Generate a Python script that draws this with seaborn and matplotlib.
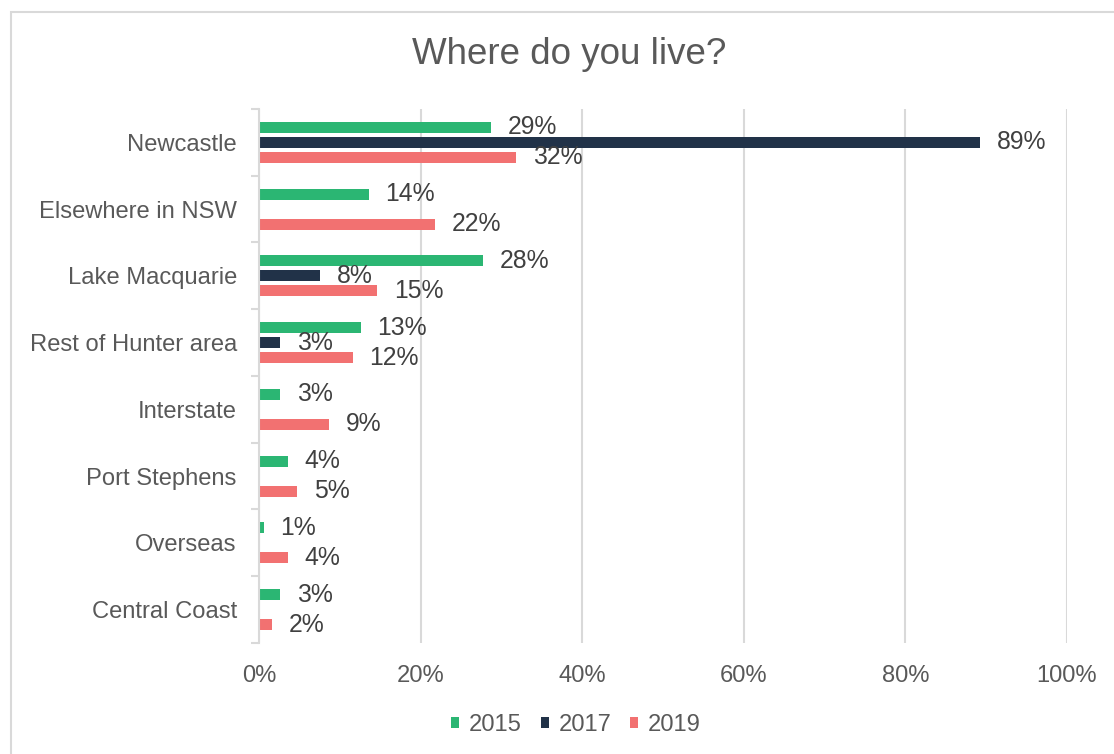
import numpy as np
import pandas as pd
import matplotlib
matplotlib.use("Agg")
import matplotlib.pyplot as plt
from matplotlib.patches import Rectangle
from matplotlib.ticker import FixedLocator, FuncFormatter
import seaborn as sns

# Survey responses: share of respondents by place of residence (%)
categories = ["Newcastle", "Elsewhere in NSW", "Lake Macquarie", "Rest of Hunter area",
              "Interstate", "Port Stephens", "Overseas", "Central Coast"]
years = ["2015", "2017", "2019"]
share_2015 = [28.7, 13.6, 27.7, 12.6, 2.6, 3.6, 0.6, 2.6]
share_2017 = [89.2, np.nan, 7.6, 2.6, np.nan, np.nan, np.nan, np.nan]
share_2019 = [31.8, 21.8, 14.6, 11.6, 8.7, 4.7, 3.6, 1.6]
x_ticks = [0, 20, 40, 60, 80, 100]

colors = {"2015": "#2BB673", "2017": "#213248", "2019": "#F27171"}
FS_AXIS = 17.1
FS_LABEL = 17.8

rows = []
for year, vals in zip(years, [share_2015, share_2017, share_2019]):
    for cat, v in zip(categories, vals):
        rows.append({"place": cat, "year": year, "share": v})
df = pd.DataFrame(rows).dropna()

sns.set_theme(style="white")
plt.rcParams["font.family"] = ["Liberation Sans", "DejaVu Sans"]

fig = plt.figure(figsize=(11.14, 7.54), dpi=100)
ax = fig.add_axes([259 / 1114, 1 - 643 / 754, (1067 - 259) / 1114, (643 - 109) / 754])

sns.barplot(data=df, y="place", x="share", hue="year", order=categories,
            hue_order=years, palette=colors, orient="h", width=0.676, gap=0.27,
            saturation=1, linewidth=0, errorbar=None, ax=ax)

ax.set_xlim(0, 100)
ax.set_ylim(len(categories) - 0.5, -0.5)
ax.xaxis.set_major_locator(FixedLocator(x_ticks))
ax.xaxis.set_major_formatter(FuncFormatter(lambda v, p: f"{v:.0f}%"))
ax.grid(axis="x", color="#d9d9d9", linewidth=1.5)
ax.grid(axis="y", visible=False)
ax.set_axisbelow(True)
for side in ["top", "right", "bottom"]:
    ax.spines[side].set_visible(False)
ax.spines["left"].set_color("#d9d9d9")
ax.spines["left"].set_linewidth(1.5)

# tick marks sit on the category boundaries
ax.yaxis.set_minor_locator(FixedLocator(np.arange(-0.5, len(categories), 1.0)))
ax.tick_params(axis="y", which="minor", left=True, length=6, width=1.5, color="#d9d9d9")
ax.tick_params(axis="y", which="major", left=False, length=0, pad=16,
               labelsize=FS_AXIS, labelcolor="#595959")
ax.tick_params(axis="x", which="major", bottom=False, length=0, pad=16,
               labelsize=FS_AXIS, labelcolor="#595959")
ax.set_xlabel("")
ax.set_ylabel("")

for container in ax.containers:
    ax.bar_label(container, fmt=lambda v: f"{v:.0f}%", padding=12,
                 fontsize=FS_LABEL, color="#404040")

sns.move_legend(ax, "center", bbox_to_anchor=(576 / 1114, 1 - 725 / 754),
                bbox_transform=fig.transFigure, ncol=3, frameon=False, title=None,
                fontsize=FS_AXIS, handlelength=0.34, handleheight=0.34,
                handletextpad=0.4, columnspacing=0.8)
for txt in ax.get_legend().get_texts():
    txt.set_color("#595959")

fig.text(569 / 1114, 1 - 55 / 754, "Where do you live?", ha="center", va="center",
         fontsize=26.5, color="#595959")

fig.add_artist(Rectangle((10.5 / 1114, -0.1), 2.0, (1 - 12.5 / 754) + 0.1,
                         transform=fig.transFigure, fill=False,
                         edgecolor="#d9d9d9", linewidth=1.5, clip_on=False))

fig.savefig("out.png", dpi=100, facecolor="white")
